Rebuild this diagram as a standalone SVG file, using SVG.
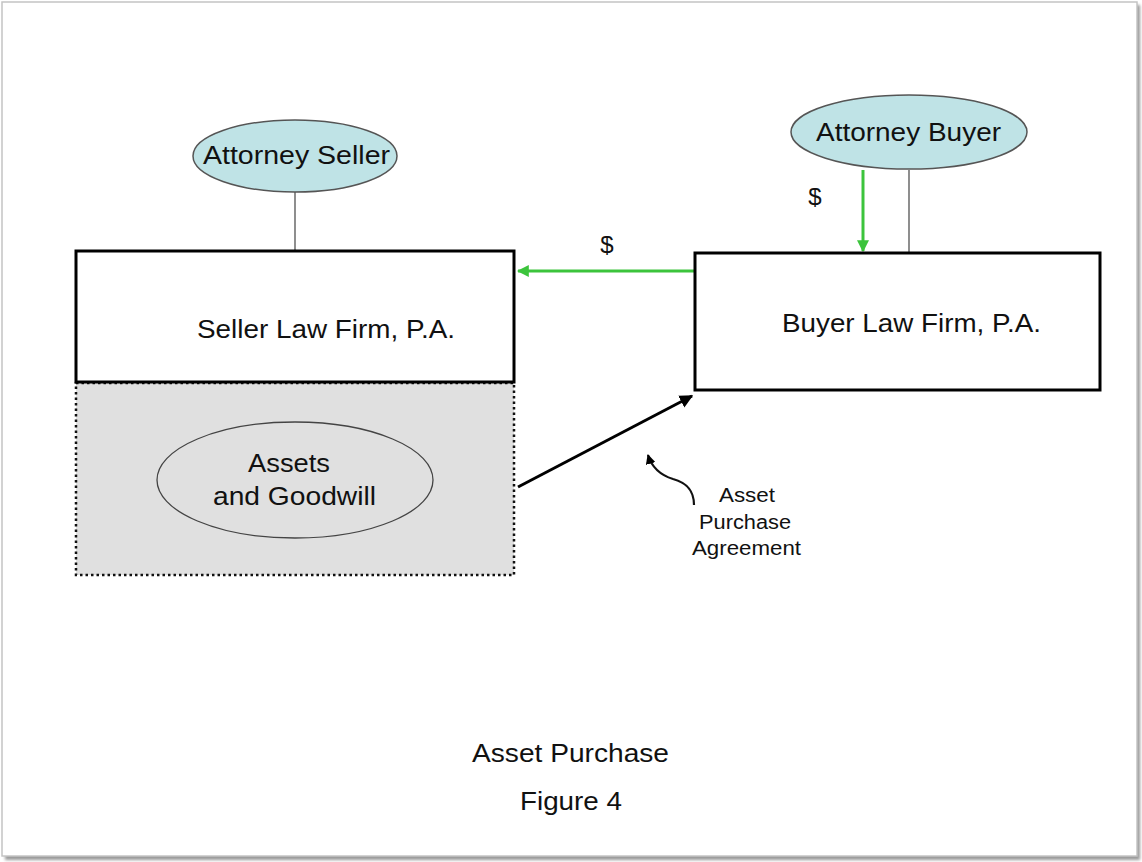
<svg xmlns="http://www.w3.org/2000/svg" width="1142" height="862" viewBox="0 0 1142 862">
  <style>
    .t { font-family: "Liberation Sans", Arial, sans-serif; fill: #111; }
    .box { fill: #fff; stroke: #000; stroke-width: 3; }
    .oval { fill: #bfe3e6; stroke: #555; stroke-width: 1.5; }
    .tie { stroke: #444; stroke-width: 1.2; fill: none; }
    .pay { stroke: #3cc43c; stroke-width: 3; fill: none; }
  </style>
  <defs>
    <marker id="headGreen" viewBox="0 0 10 10" refX="9" refY="5" markerWidth="4" markerHeight="4" orient="auto" markerUnits="strokeWidth">
      <path d="M0,0 L10,5 L0,10 z" fill="#3cc43c"/>
    </marker>
    <marker id="headBlack" viewBox="0 0 10 10" refX="9" refY="5" markerWidth="4.5" markerHeight="4.5" orient="auto" markerUnits="strokeWidth">
      <path d="M0,0 L10,5 L0,10 z" fill="#000"/>
    </marker>
    <filter id="soft" x="-5%" y="-5%" width="110%" height="110%">
      <feGaussianBlur stdDeviation="1.5"/>
    </filter>
  </defs>

  <!-- page frame with drop shadow -->
  <rect x="0" y="0" width="1142" height="862" fill="#fff"/>
  <rect x="5" y="5" width="1135" height="855" fill="#9a9a9a" filter="url(#soft)"/>
  <rect x="2" y="2" width="1135" height="854" fill="#fff" stroke="#c4c4c4" stroke-width="1.5"/>

  <!-- connectors -->
  <g id="connectors">
    <line class="tie" x1="295" y1="192" x2="295" y2="251"/>
    <line class="tie" x1="909" y1="170" x2="909" y2="253"/>
    <line class="pay" x1="863" y1="170" x2="863" y2="251" marker-end="url(#headGreen)"/>
    <line class="pay" x1="695" y1="271" x2="518" y2="271" marker-end="url(#headGreen)"/>
    <line x1="518" y1="487" x2="692" y2="396" stroke="#000" stroke-width="3" marker-end="url(#headBlack)"/>
    <path d="M694,505 C694,488 684,482 673,479 C660,475 652,468 648,455" fill="none" stroke="#111" stroke-width="2.2" marker-end="url(#headBlack)"/>
    <text class="t" x="607" y="253" font-size="24" text-anchor="middle">$</text>
    <text class="t" x="815" y="205" font-size="24" text-anchor="middle">$</text>
  </g>

  <g id="attorney-seller">
    <ellipse class="oval" cx="295" cy="156" rx="102" ry="36"/>
    <text class="t" x="296.5" y="164" font-size="25" text-anchor="middle" textLength="187" lengthAdjust="spacingAndGlyphs">Attorney Seller</text>
  </g>

  <g id="attorney-buyer">
    <ellipse class="oval" cx="909" cy="132" rx="118" ry="37"/>
    <text class="t" x="908.5" y="141" font-size="25" text-anchor="middle" textLength="185" lengthAdjust="spacingAndGlyphs">Attorney Buyer</text>
  </g>

  <g id="seller-assets">
    <rect x="76" y="383" width="438" height="192" fill="#e0e0e0" stroke="#111" stroke-width="2.5" stroke-dasharray="2.5 3"/>
    <ellipse cx="295" cy="480" rx="138" ry="58" fill="#e0e0e0" stroke="#444" stroke-width="1.3"/>
    <text class="t" x="289" y="472" font-size="25" text-anchor="middle" textLength="82" lengthAdjust="spacingAndGlyphs">Assets</text>
    <text class="t" x="294.5" y="505" font-size="25" text-anchor="middle" textLength="163" lengthAdjust="spacingAndGlyphs">and Goodwill</text>
  </g>

  <g id="seller-firm">
    <rect class="box" x="76" y="251" width="438" height="131"/>
    <text class="t" x="326" y="338" font-size="25" text-anchor="middle" textLength="258" lengthAdjust="spacingAndGlyphs">Seller Law Firm, P.A.</text>
  </g>

  <g id="buyer-firm">
    <rect class="box" x="695" y="253" width="405" height="137"/>
    <text class="t" x="911.5" y="332" font-size="25" text-anchor="middle" textLength="259" lengthAdjust="spacingAndGlyphs">Buyer Law Firm, P.A.</text>
  </g>

  <g id="agreement-label">
    <text class="t" x="747" y="502" font-size="19.5" text-anchor="middle" textLength="56" lengthAdjust="spacingAndGlyphs">Asset</text>
    <text class="t" x="745" y="529" font-size="19.5" text-anchor="middle" textLength="92" lengthAdjust="spacingAndGlyphs">Purchase</text>
    <text class="t" x="746.5" y="555" font-size="19.5" text-anchor="middle" textLength="109" lengthAdjust="spacingAndGlyphs">Agreement</text>
  </g>

  <g id="caption">
    <text class="t" x="570.5" y="762" font-size="25" text-anchor="middle" textLength="197" lengthAdjust="spacingAndGlyphs">Asset Purchase</text>
    <text class="t" x="571" y="810" font-size="25" text-anchor="middle" textLength="102" lengthAdjust="spacingAndGlyphs">Figure 4</text>
  </g>
</svg>
